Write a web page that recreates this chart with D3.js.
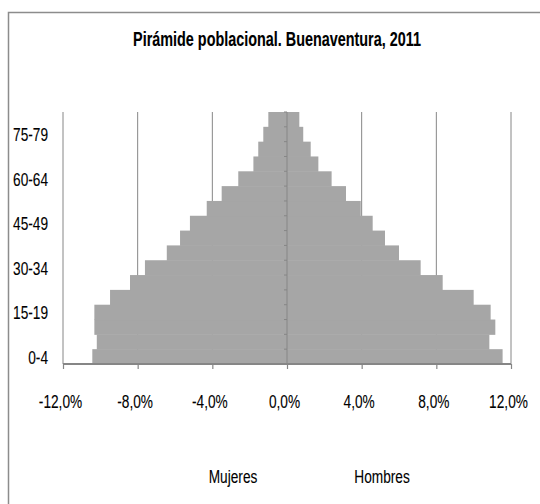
<!DOCTYPE html>
<html>
<head>
<meta charset="utf-8">
<script src="https://cdn.jsdelivr.net/npm/d3@7"></script>
<style>
  body { margin: 0; background: #fff; }
  text { font-family: 'Liberation Sans Narrow', 'Liberation Sans', sans-serif; fill: #000; stroke: #000; stroke-width: 0.12px; }
</style>
</head>
<body>
<script>
const WIDTH = 540;
const HEIGHT = 504;

// age groups, bottom to top
const ages = ['0-4','5-9','10-14','15-19','20-24','25-29','30-34','35-39','40-44',
  '45-49','50-54','55-59','60-64','65-69','70-74','75-79','80 y más'];
const shownAges = ['0-4','15-19','30-34','45-49','60-64','75-79'];

// percent of population
const mujeres = [10.43, 10.19, 10.32, 10.32, 9.48, 8.41, 7.61, 6.44, 5.73,
  5.2, 4.3, 3.5, 2.61, 1.8, 1.54, 1.27, 1.0];
const hombres = [11.55, 10.84, 11.16, 10.91, 10.0, 8.34, 7.16, 6.0, 5.25,
  4.59, 3.95, 3.16, 2.39, 1.68, 1.27, 0.87, 0.66];

const xTicks = [-12, -8, -4, 0, 4, 8, 12];
const title = 'Pirámide poblacional. Buenaventura, 2011';
const legendNames = ['Mujeres', 'Hombres'];

const plot = { left: 63, right: 511, top: 112, bottom: 364 };
const SX = 0.72;
const FS = 19;
const GRID = '#868686';
const BAR = '#a6a6a6';

const svg = d3.select('body')
  .append('svg')
  .attr('width', WIDTH)
  .attr('height', HEIGHT);

// chart border
svg.append('rect')
  .attr('x', 8.5)
  .attr('y', 12.5)
  .attr('width', 560)
  .attr('height', 520)
  .attr('fill', 'none')
  .attr('stroke', '#8c8c8c')
  .attr('stroke-width', 1.5);

const x = d3.scaleLinear()
  .domain([-12, 12])
  .range([plot.left, plot.right]);

const y = d3.scaleBand()
  .domain(ages)
  .range([plot.bottom, plot.top])
  .padding(0);

const scaledText = (sel, tx, ty, str, size, anchor, weight) => {
  sel.append('text')
    .attr('transform', 'translate(' + tx + ',' + ty + ') scale(' + SX + ',1)')
    .attr('text-anchor', anchor)
    .style('font-size', size + 'px')
    .style('font-weight', weight || 'normal')
    .text(str);
};

// title
scaledText(svg, 277, 46, title, FS + 1, 'middle', 'bold');

// gridlines
svg.append('g')
  .selectAll('line')
  .data(xTicks.filter(d => d !== 0))
  .enter()
  .append('line')
  .attr('x1', d => x(d))
  .attr('x2', d => x(d))
  .attr('y1', plot.top)
  .attr('y2', plot.bottom)
  .attr('stroke', GRID)
  .attr('stroke-width', 1);

// bars
const rows = ages.map((a, i) => ({ age: a, m: mujeres[i], h: hombres[i] }));

svg.append('g')
  .selectAll('rect')
  .data(rows)
  .enter()
  .append('rect')
  .attr('x', d => x(-d.m))
  .attr('y', d => y(d.age))
  .attr('width', d => x(0) - x(-d.m))
  .attr('height', y.bandwidth() + 0.5)
  .attr('fill', BAR);

svg.append('g')
  .selectAll('rect')
  .data(rows)
  .enter()
  .append('rect')
  .attr('x', x(0))
  .attr('y', d => y(d.age))
  .attr('width', d => x(d.h) - x(0))
  .attr('height', y.bandwidth() + 0.5)
  .attr('fill', BAR);

// vertical category axis at 0
const vAxis = svg.append('g');
vAxis.append('line')
  .attr('x1', x(0)).attr('x2', x(0))
  .attr('y1', plot.top).attr('y2', plot.bottom)
  .attr('stroke', GRID)
  .attr('stroke-width', 1);
vAxis.selectAll('.ctick')
  .data(ages)
  .enter()
  .append('line')
  .attr('class', 'ctick')
  .attr('x1', x(0) - 3).attr('x2', x(0))
  .attr('y1', d => y(d))
  .attr('y2', d => y(d))
  .attr('stroke', GRID)
  .attr('stroke-width', 1);

// age labels on the left
const yLab = svg.append('g');
shownAges.forEach(a => {
  scaledText(yLab, 48, y(a) + y.bandwidth() / 2 + 7, a, FS, 'end');
});

// bottom axis
const xAxis = d3.axisBottom(x)
  .tickValues(xTicks)
  .tickSize(5)
  .tickFormat(d => (d < 0 ? '-' : '') + Math.abs(d).toFixed(1).replace('.', ',') + '%');

const gx = svg.append('g')
  .attr('transform', 'translate(0,' + plot.bottom + ')')
  .call(xAxis);

gx.select('.domain')
  .attr('stroke', GRID)
  .attr('stroke-width', 2)
  .attr('d', 'M' + plot.left + ',0H' + plot.right);
gx.selectAll('.tick line')
  .attr('stroke', GRID)
  .attr('stroke-width', 1.2);
gx.selectAll('.tick text')
  .attr('y', 0)
  .attr('dy', 0)
  .attr('transform', 'translate(-3,44) scale(' + SX + ',1)')
  .style('font-size', FS + 'px')
  .style('font-family', "'Liberation Sans Narrow', 'Liberation Sans', sans-serif")
  .attr('fill', '#000');

// legend (names only)
scaledText(svg, 233, 483, legendNames[0], FS, 'middle');
scaledText(svg, 382, 483, legendNames[1], FS, 'middle');
</script>
</body>
</html>
